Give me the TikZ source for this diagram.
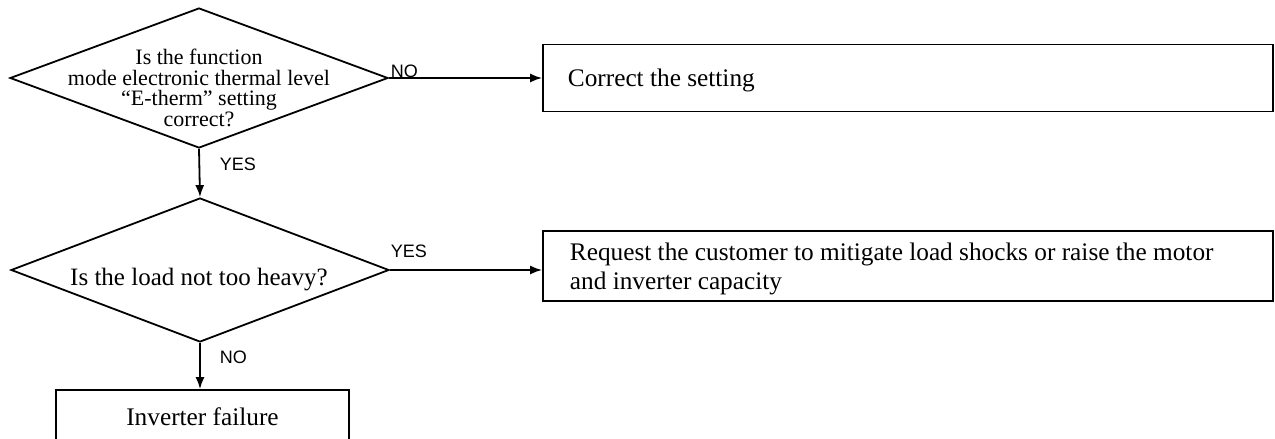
\documentclass[tikz,border=0pt]{standalone}
\usepackage{fontspec}
\setmainfont{Liberation Serif}
\newfontfamily\lblfont{Liberation Sans}
\usetikzlibrary{shapes.geometric,arrows.meta}
\begin{document}
\begin{tikzpicture}[x=1pt,y=-1pt,line width=1.8pt,
  dec/.style={draw, diamond, shape aspect=2.7, inner sep=0pt},
  dtext/.style={align=center, font=\fontsize{22}{20.5}\selectfont, inner sep=0pt},
  box/.style={draw, rectangle, inner sep=0pt},
  btext/.style={align=left, font=\fontsize{25.3}{29}\selectfont, inner sep=0pt},
  lbl/.style={font=\lblfont\fontsize{18}{18}\selectfont, inner sep=0pt, anchor=base west},
  arr/.style={-{Latex[length=12pt,width=9pt]}}]
\useasboundingbox (0,0) rectangle (1275,439);
% decisions
\node[dec, minimum width=378pt, minimum height=140pt] (d1) at (199,78) {};
\node[dtext] (t1) at (199,88) {Is the function\\mode electronic thermal level\\``E-therm'' setting\\correct?};
\node[dec, minimum width=378pt, minimum height=144pt] (d2) at (200,270) {};
\node[dtext, font=\fontsize{25}{25}\selectfont, anchor=base] (t2) at (199,285) {Is the load not too heavy?};
% boxes
\node[box, minimum width=730pt, minimum height=67pt] (b1) at (908,78) {};
\node[btext, anchor=base west] (bt1) at (567,86) {Correct the setting};
\node[box, minimum width=730pt, minimum height=70pt] (b2) at (908,266) {};
\node[btext, anchor=west] (bt2) at (569,269) {Request the customer to mitigate load shocks or raise the motor\\and inverter capacity};
\node[box, minimum width=293pt, minimum height=50pt] (b3) at (202.5,415) {};
\node[btext, anchor=base] (bt3) at (202.5,425) {Inverter failure};
% connectors
\draw[arr] (d1.east) -- (d1.east -| b1.west);
\draw[arr] (d1.south) -- (d2.north);
\draw[arr] (d2.east) -- (d2.east -| b2.west);
\draw[arr] (d2.south) -- (d2.south |- b3.north);
% labels
\node[lbl] (l1) at (390,77) {NO};
\node[lbl] (l2) at (219,170) {YES};
\node[lbl] (l3) at (390,257) {YES};
\node[lbl] (l4) at (219,363) {NO};
\end{tikzpicture}
\end{document}
